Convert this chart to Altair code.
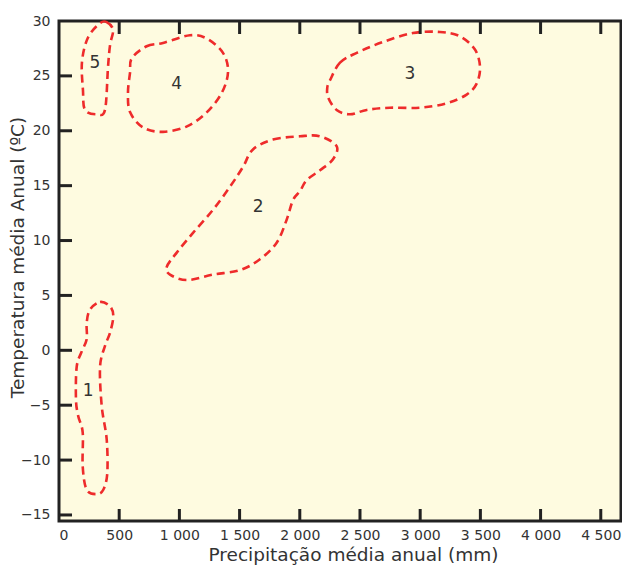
import altair as alt
import pandas as pd

# Blob outlines (precipitation mm, temperature °C)
b1_x = [257, 341, 424, 451, 424, 382, 341, 355, 396, 401, 368, 313, 230, 197, 197, 160, 141, 147, 189, 230, 230]
b1_y = [3.7, 4.4, 4.0, 3.1, 1.6, 0.4, -1.5, -5.1, -8.1, -11.2, -12.7, -13.1, -12.7, -10.6, -7.5, -6.0, -4.5, -1.5, -0.1, 1.0, 2.5]

b2_x = [1611, 1777, 2002, 2168, 2306, 2276, 2168, 2057, 2002, 1944, 1891, 1808, 1669, 1503, 1279, 1063, 922, 895, 978, 1113, 1279, 1420, 1528]
b2_y = [18.3, 19.2, 19.5, 19.5, 18.6, 17.4, 16.4, 15.5, 14.5, 13.7, 11.9, 9.8, 8.3, 7.3, 6.9, 6.4, 6.9, 7.6, 8.9, 10.7, 12.8, 14.9, 16.7]

b3_x = [2251, 2334, 2473, 2694, 2940, 3164, 3331, 3455, 3497, 3469, 3386, 3220, 2998, 2749, 2556, 2417, 2306, 2237, 2228]
b3_y = [24.6, 26.2, 27.1, 28.1, 28.9, 29.0, 28.6, 27.4, 25.8, 24.3, 23.3, 22.5, 22.1, 22.1, 21.9, 21.5, 21.9, 23.0, 23.9]

b4_x = [604, 728, 864, 1088, 1227, 1362, 1404, 1354, 1229, 1063, 864, 698, 590, 573, 590]
b4_y = [26.6, 27.7, 28.0, 28.7, 28.4, 27.1, 25.4, 23.5, 21.7, 20.4, 19.9, 20.3, 21.7, 23.5, 25.3]

b5_x = [341, 396, 449, 424, 407, 382, 316, 216, 199, 191, 241]
b5_y = [29.8, 29.9, 29.2, 27.8, 25.8, 21.9, 21.5, 21.9, 23.7, 26.3, 28.5]

label_text = ["1", "2", "3", "4", "5"]
label_x = [243, 1655, 2915, 977, 299]
label_y = [-3.7, 13.1, 25.2, 24.3, 26.2]

x_ticks = [500, 1000, 1500, 2000, 2500, 3000, 3500, 4000, 4500]
y_ticks = [-15, -10, -5, 0, 5, 10, 15, 20, 25]

rows = []
for name, xs, ys in [("1", b1_x, b1_y), ("2", b2_x, b2_y), ("3", b3_x, b3_y),
                     ("4", b4_x, b4_y), ("5", b5_x, b5_y)]:
    for i, (a, b) in enumerate(zip(xs, ys)):
        rows.append({"blob": name, "i": i, "p": a, "t": b})
blobs = pd.DataFrame(rows)
labels = pd.DataFrame({"txt": label_text, "p": label_x, "t": label_y})
xt = pd.DataFrame({"v": x_ticks})
yt = pd.DataFrame({"v": y_ticks})

XD = [0, 4668]
YD = [-15.55, 30]
FONT = "DejaVu Sans"
TXT = "#333333"

xscale = alt.Scale(domain=XD, nice=False, zero=False)
yscale = alt.Scale(domain=YD, nice=False, zero=False)

xaxis = alt.Axis(values=[0] + x_ticks, ticks=False, domain=False, grid=False,
                 labelExpr="replace(format(datum.value, ','), ',', ' ')",
                 labelFontSize=14, labelColor=TXT, labelFont=FONT, labelPadding=7,
                 title="Precipitação média anual (mm)", titleFontSize=18.5,
                 titleFont=FONT, titleColor=TXT, titleFontWeight="normal",
                 titleX=294, titleY=39, titleAnchor="middle",
                 titleBaseline="alphabetic")
yaxis = alt.Axis(values=[-15, -10, -5, 0, 5, 10, 15, 20, 25, 30], ticks=False,
                 domain=False, grid=False, format="d",
                 labelFontSize=14, labelColor=TXT, labelFont=FONT, labelPadding=9,
                 title="Temperatura média Anual (ºC)", titleFontSize=18.5,
                 titleFont=FONT, titleColor=TXT, titleFontWeight="normal",
                 titleX=-36, titleY=236, titleAnchor="middle",
                 titleBaseline="alphabetic")

base_lines = alt.Chart(blobs).mark_line(
    interpolate="cardinal-closed", stroke="#ee2b2b", strokeWidth=2.6,
    strokeDash=[8, 5]
).encode(
    x=alt.X("p:Q", scale=xscale, axis=xaxis),
    y=alt.Y("t:Q", scale=yscale, axis=yaxis),
    detail="blob:N",
    order="i:Q",
)

txt = alt.Chart(labels).mark_text(fontSize=17, font=FONT, color=TXT).encode(
    x=alt.X("p:Q", scale=xscale), y=alt.Y("t:Q", scale=yscale), text="txt:N")

tick_bottom = alt.Chart(xt).mark_rule(color="#222222", strokeWidth=3).encode(
    x=alt.X("v:Q", scale=xscale), y=alt.value(500), y2=alt.value(488))
tick_top = alt.Chart(xt).mark_rule(color="#222222", strokeWidth=3).encode(
    x=alt.X("v:Q", scale=xscale), y=alt.value(0), y2=alt.value(13))
tick_left = alt.Chart(yt).mark_rule(color="#222222", strokeWidth=3).encode(
    y=alt.Y("v:Q", scale=yscale), x=alt.value(0), x2=alt.value(13))

chart = alt.layer(base_lines, txt, tick_bottom, tick_top, tick_left).properties(
    width=562, height=500,
    autosize=alt.AutoSizeParams(type="none"),
    padding={"left": 51, "top": 13, "right": 1, "bottom": 44},
    background="white",
).configure_view(fill="#fefbe0", stroke="#222222", strokeWidth=3)

chart.save("out.html", embed_options={"renderer": "svg", "actions": False})
